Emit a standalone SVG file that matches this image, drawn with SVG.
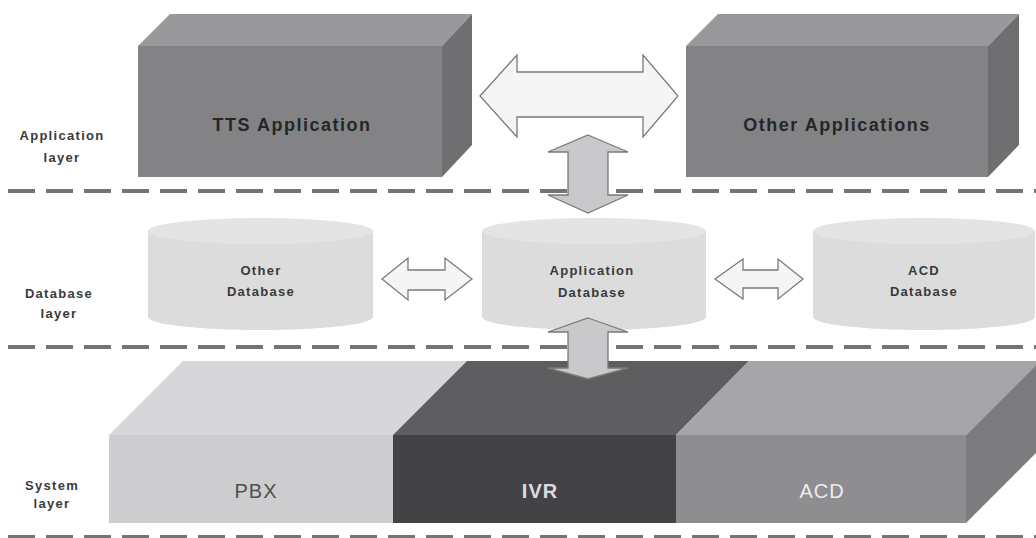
<svg xmlns="http://www.w3.org/2000/svg" width="1036" height="538" viewBox="0 0 1036 538">
<style>
.dash{stroke:#747476;stroke-width:4;stroke-dasharray:27 11;fill:none}
.lbl{font-family:"Liberation Sans",Arial,sans-serif;font-weight:bold;font-size:13px;letter-spacing:1.3px;fill:#3a3a3a;text-anchor:middle}
.big{font-family:"Liberation Sans",Arial,sans-serif;font-weight:bold;font-size:18px;letter-spacing:1.5px;fill:#262628;text-anchor:middle}
.sys{font-family:"Liberation Sans",Arial,sans-serif;font-size:20px;letter-spacing:1px;text-anchor:middle}
.harrow{fill:#f5f5f5;stroke:#7a7a7a;stroke-width:1.3}
.varrow{fill:#c9c9cb;stroke:#7a7a7a;stroke-width:1.3}
.cylb{fill:#dcdcdd}
.cylt{fill:#e4e4e5}
.app-front{fill:#838386}
.app-top{fill:#99999c}
.app-side{fill:#6f6f72}
</style>
<rect width="1036" height="538" fill="#ffffff"/>
<g id="layer-lines">
<line class="dash" x1="8" y1="191" x2="1036" y2="191"/>
<line class="dash" x1="8" y1="347" x2="1036" y2="347"/>
<line class="dash" x1="8" y1="537" x2="1036" y2="537"/>
</g>
<g id="layer-labels">
<text class="lbl" x="62" y="140">Application</text>
<text class="lbl" x="62" y="162">layer</text>
<text class="lbl" x="59" y="298">Database</text>
<text class="lbl" x="59" y="318">layer</text>
<text class="lbl" x="52" y="490">System</text>
<text class="lbl" x="52" y="508">layer</text>
</g>
<g id="tts-application">
<polygon class="app-top" points="138,46 170,14 472,14 442,46"/>
<polygon class="app-side" points="442,46 472,14 472,145 442,177"/>
<rect class="app-front" x="138" y="46" width="304" height="131"/>
<text class="big" x="292" y="131">TTS Application</text>
</g>
<g id="other-applications">
<polygon class="app-top" points="686,46 718,14 1019,14 988,46"/>
<polygon class="app-side" points="988,46 1019,14 1019,145 988,177"/>
<rect class="app-front" x="686" y="46" width="302" height="131"/>
<text class="big" x="837" y="131">Other Applications</text>
</g>
<g id="other-database">
<rect class="cylb" x="148" y="231" width="225" height="86"/>
<ellipse class="cylb" cx="260.5" cy="317" rx="112.5" ry="13"/>
<ellipse class="cylt" cx="260.5" cy="231" rx="112.5" ry="13"/>
<text class="lbl" x="261" y="275">Other</text>
<text class="lbl" x="261" y="296">Database</text>
</g>
<g id="application-database">
<rect class="cylb" x="482" y="231" width="224" height="86"/>
<ellipse class="cylb" cx="594" cy="317" rx="112" ry="13"/>
<ellipse class="cylt" cx="594" cy="231" rx="112" ry="13"/>
<text class="lbl" x="592" y="275">Application</text>
<text class="lbl" x="592" y="297">Database</text>
</g>
<g id="acd-database">
<rect class="cylb" x="813" y="231" width="222" height="86"/>
<ellipse class="cylb" cx="924" cy="317" rx="111" ry="13"/>
<ellipse class="cylt" cx="924" cy="231" rx="111" ry="13"/>
<text class="lbl" x="924" y="275">ACD</text>
<text class="lbl" x="924" y="296">Database</text>
</g>
<g id="pbx">
<polygon points="109,435 183,361 467,361 393,435" fill="#d7d7d9"/>
<rect x="109" y="435" width="284" height="88" fill="#cdcdcf"/>
<text class="sys" x="256" y="498" fill="#505052">PBX</text>
</g>
<g id="ivr">
<polygon points="393,435 467,361 749,361 676,435" fill="#5e5e60"/>
<rect x="393" y="435" width="283" height="88" fill="#434345"/>
<text class="sys" x="540" y="498" fill="#dcdcde" font-weight="bold">IVR</text>
</g>
<g id="acd">
<polygon points="676,435 749,361 1040,361 966,435" fill="#a6a6a9"/>
<polygon points="966,435 1040,361 1040,449 966,523" fill="#7c7c7f"/>
<rect x="676" y="435" width="290" height="88" fill="#8e8e91"/>
<text class="sys" x="822" y="498" fill="#ececee" letter-spacing="2">ACD</text>
</g>
<g id="connectors">
<polygon class="harrow" points="480,96 517,55 517,72 643,72 643,55 678,96 643,137 643,117 517,117 517,137"/>
<polygon class="varrow" points="588,135 628,152 608,152 608,195 628,195 588,213 548,195 568,195 568,152 548,152"/>
<polygon class="harrow" points="382,279 408,258 408,270 445,270 445,258 472,279 445,300 445,290 408,290 408,300"/>
<polygon class="harrow" points="715,279 743,259 743,270 778,270 778,259 803,279 778,299 778,288 743,288 743,299"/>
<polygon class="varrow" points="588,318 628,332 608,332 608,368 628,368 588,379 548,368 568,368 568,332 548,332"/>
</g>
</svg>
